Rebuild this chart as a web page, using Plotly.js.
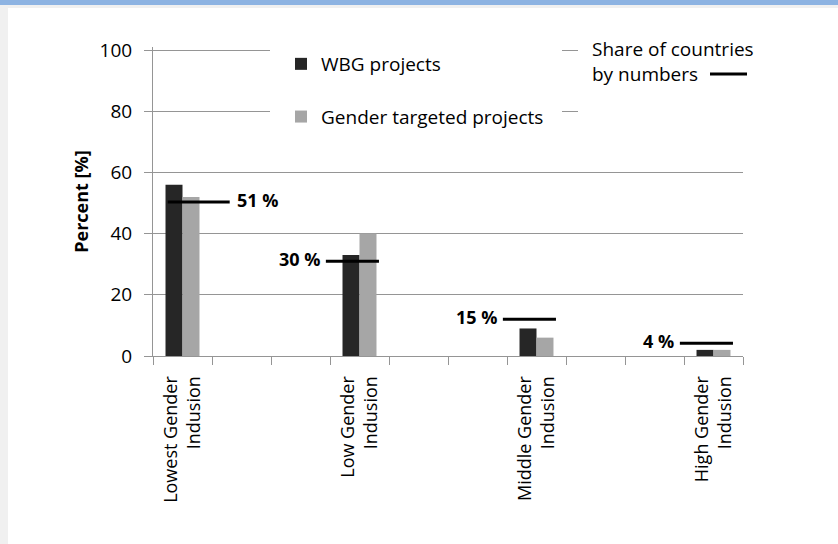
<!DOCTYPE html>
<html>
<head>
<meta charset="utf-8">
<script src="https://cdn.plot.ly/plotly-3.0.1.min.js"></script>
<style>
  html, body { margin:0; padding:0; background:#ffffff; }
  #wrap { position:relative; width:838px; height:544px; overflow:hidden; }
  #chart { position:absolute; left:0; top:0; width:838px; height:544px; }
  .deco { position:absolute; pointer-events:none; }
</style>
</head>
<body>
<div id="wrap">
  <div id="chart"></div>
  <div class="deco" style="left:0;top:0;width:838px;height:5px;background:#8db3e2;"></div>
  <div class="deco" style="left:0;top:5px;width:838px;height:3px;background:#f0f0f0;"></div>
  <div class="deco" style="left:0;top:5px;width:8px;height:539px;background:#f0f0f0;"></div>
</div>
<script>
// ---- data ----
const slots = ['Lowest Gender<br>Indusion', '', '', 'Low Gender<br>Indusion', '', '', 'Middle Gender<br>Indusion', '', '', 'High Gender<br>Indusion'];
const categories = ['Lowest Gender<br>Indusion', 'Low Gender<br>Indusion', 'Middle Gender<br>Indusion', 'High Gender<br>Indusion'];
const wbgProjects = [56, 33, 9, 2];
const genderTargeted = [52, 40, 6, 2];
const shareLabels = ['51 %', '30 %', '15 %', '4 %'];
const shareLineLevel = [50.3, 31, 12, 4.2];
const yTicks = [0, 20, 40, 60, 80, 100];

// ---- build ----
const xIdx = categories.map(c => slots.indexOf(c));
const boundaries = [];
for (let i = 0; i <= slots.length; i++) boundaries.push(i - 0.5);

const FONT = 'Open Sans, Lato, sans-serif';
const GRID = '#959595';
const traces = [
  { type:'bar', name:'WBG projects', x:xIdx, y:wbgProjects, marker:{color:'#262626'}, legendgroup:'a', hoverinfo:'y' },
  { type:'bar', name:'Gender targeted projects', x:xIdx, y:genderTargeted, marker:{color:'#a6a6a6'}, legendgroup:'b', hoverinfo:'y' }
];

const annotations = [];
xIdx.forEach((xi, i) => {
  const first = i === 0;
  const x0 = first ? xi - 0.25 : xi - 0.57;
  const x1 = first ? xi + 0.80 : xi + 0.33;
  traces.push({ type:'scatter', mode:'lines', x:[x0, x1], y:[shareLineLevel[i], shareLineLevel[i]],
    line:{color:'#000000', width:3}, showlegend:false, hoverinfo:'skip', xaxis:'x', yaxis:'y' });
  annotations.push({
    x: first ? x1 : x0, y: shareLineLevel[i], xref:'x', yref:'y',
    text:'<b>' + shareLabels[i] + '</b>', showarrow:false,
    xanchor: first ? 'left' : 'right', yanchor:'middle',
    xshift: first ? 5 : -4, yshift: 2,
    font:{family:FONT, size:18, color:'#000000'}
  });
});

// plot area in pixels: x 153..743, y 47..356 (range 0..101)
const PX = px => (px - 153) / 590;
const PY = py => (356 - py) / 309;

annotations.push({
  x:PX(590), y:PY(34), xref:'paper', yref:'paper',
  text:'Share of countries<br>by numbers', showarrow:false, align:'left',
  xanchor:'left', yanchor:'top', font:{family:FONT, size:19, color:'#000000'}
});

const shapes = [
  // white text-box backgrounds that hide the upper gridlines
  { type:'rect', xref:'paper', yref:'paper', layer:'above',
    x0:PX(270), x1:PX(562), y0:PY(135), y1:PY(40),
    fillcolor:'#ffffff', line:{width:0} },
  { type:'rect', xref:'paper', yref:'paper', layer:'above',
    x0:PX(578), x1:1.01, y0:PY(135), y1:PY(40),
    fillcolor:'#ffffff', line:{width:0} },
  // legend sample line for share of countries
  { type:'line', xref:'paper', yref:'paper',
    x0:PX(710), x1:PX(747), y0:PY(74), y1:PY(74),
    line:{color:'#000000', width:3} }
];

const layout = {
  width:838, height:544,
  margin:{l:153, r:95, t:47, b:188},
  paper_bgcolor:'#ffffff', plot_bgcolor:'#ffffff',
  font:{family:FONT, size:19, color:'#000000'},
  barmode:'group', bargap:0.808, bargroupgap:0,
  showlegend:true,
  legend:{ x:PX(281), xanchor:'left', y:PY(45), yanchor:'top',
    bgcolor:'rgba(0,0,0,0)', borderwidth:0, tracegroupgap:25, traceorder:'grouped',
    font:{family:FONT, size:19, color:'#000000'} },
  xaxis:{
    range:[-0.5, slots.length - 0.5], tickmode:'array', tickvals:xIdx, ticktext:categories,
    ticks:'', tickangle:-90, showgrid:false, zeroline:false,
    showline:true, linecolor:GRID, linewidth:1,
    ticklabelstandoff:12,
    tickfont:{family:FONT, size:18, color:'#000000'}, fixedrange:true
  },
  xaxis2:{
    overlaying:'x', anchor:'y', side:'bottom', range:[-0.5, slots.length - 0.5],
    tickmode:'array', tickvals:boundaries, ticktext:boundaries.map(() => ''),
    ticks:'outside', ticklen:8, tickcolor:GRID, tickwidth:1,
    showticklabels:false, showgrid:false, zeroline:false, showline:false
  },
  yaxis:{
    range:[0, 101], tickmode:'array', tickvals:yTicks, ticktext:yTicks.map(String),
    ticks:'outside', ticklen:8, tickcolor:GRID,
    showgrid:true, gridcolor:GRID, gridwidth:1, zeroline:false,
    showline:true, linecolor:GRID, linewidth:1,
    ticklabelstandoff:8,
    tickfont:{family:FONT, size:19, color:'#000000'},
    title:{text:'<b>Percent [%]</b>', standoff:6, font:{family:FONT, size:18, color:'#000000'}}
  },
  annotations:annotations,
  shapes:shapes
};

// dummy trace so xaxis2 is drawn
traces.push({ type:'scatter', mode:'none', x:[boundaries[0]], y:[0], xaxis:'x2', yaxis:'y', showlegend:false, hoverinfo:'skip' });

Plotly.newPlot('chart', traces, layout, {displayModeBar:false, staticPlot:true});
</script>
</body>
</html>
